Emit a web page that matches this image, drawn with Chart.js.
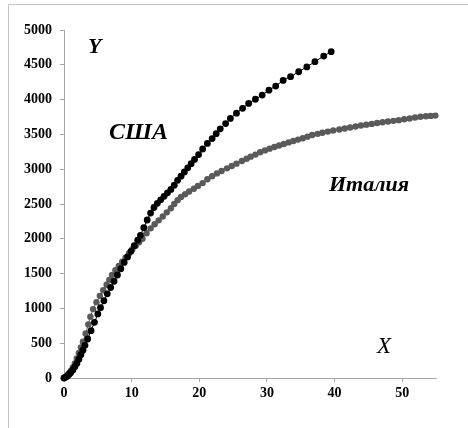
<!DOCTYPE html>
<html>
<head>
<meta charset="utf-8">
<script src="https://cdn.jsdelivr.net/npm/chart.js@4"></script>
<style>
  html, body { margin: 0; padding: 0; background: #fff; }
  #wrap { width: 468px; height: 428px; position: relative; }
</style>
</head>
<body>
<div id="wrap"><canvas id="c" width="468" height="428"></canvas></div>
<script>
// США: x and y values of each point along the curve
const usaX = [0, 0.2, 0.4, 0.6, 0.8, 1.0, 1.3, 1.6, 1.9, 2.2, 2.5, 2.8, 3.1, 3.5, 4.0, 4.5, 5.0, 5.4, 5.9, 6.4, 6.9, 7.4, 7.9, 8.4, 8.9, 9.4, 9.9, 10.4, 10.9, 11.3, 11.8, 12.3, 12.8, 13.3, 13.8, 14.3, 14.8, 15.3, 15.8, 16.3, 16.8, 17.3, 17.8, 18.3, 18.8, 19.3, 19.9, 20.5, 21.2, 21.9, 22.5, 23.1, 23.9, 24.6, 25.5, 26.4, 27.3, 28.3, 29.3, 30.3, 31.3, 32.4, 33.5, 34.7, 35.9, 37.1, 38.4, 39.5];
const usaY = [0, 10, 22, 38, 58, 80, 115, 160, 210, 270, 335, 400, 470, 560, 680, 800, 920, 1010, 1110, 1210, 1300, 1390, 1480, 1570, 1660, 1740, 1820, 1900, 1980, 2050, 2160, 2270, 2370, 2450, 2510, 2560, 2610, 2660, 2710, 2770, 2840, 2900, 2960, 3020, 3080, 3140, 3210, 3290, 3370, 3440, 3510, 3580, 3655, 3730, 3805, 3875, 3945, 4005, 4065, 4135, 4195, 4275, 4330, 4400, 4470, 4545, 4625, 4688];

// Италия: x and y values of each point along the curve
const italyX = [0, 0.2, 0.4, 0.6, 0.8, 1.0, 1.3, 1.6, 1.9, 2.2, 2.5, 2.8, 3.2, 3.6, 3.9, 4.3, 4.8, 5.3, 5.8, 6.3, 6.7, 7.1, 7.6, 8.1, 8.6, 9.1, 9.6, 10.1, 10.6, 11.1, 11.6, 12.2, 12.8, 13.4, 14.0, 14.6, 15.2, 15.8, 16.3, 16.8, 17.3, 17.9, 18.5, 19.2, 19.8, 20.5, 21.2, 21.9, 22.6, 23.3, 24.1, 24.8, 25.5, 26.3, 27.0, 27.6, 28.3, 29.0, 29.7, 30.4, 31.1, 31.8, 32.5, 33.2, 33.9, 34.6, 35.3, 36.0, 36.7, 37.5, 38.2, 39.0, 39.8, 40.7, 41.5, 42.3, 43.1, 43.9, 44.7, 45.5, 46.3, 47.1, 47.9, 48.7, 49.5, 50.3, 51.1, 51.9, 52.7, 53.5, 54.2, 54.9];
const italyY = [0, 12, 28, 48, 72, 100, 150, 210, 280, 360, 440, 520, 640, 770, 880, 990, 1090, 1180, 1260, 1340, 1410, 1480, 1550, 1610, 1670, 1730, 1790, 1850, 1900, 1950, 2000, 2080, 2150, 2210, 2265, 2320, 2380, 2440, 2500, 2555, 2600, 2640, 2680, 2720, 2760, 2800, 2855, 2900, 2940, 2975, 3012, 3045, 3080, 3118, 3150, 3180, 3210, 3243, 3270, 3295, 3318, 3340, 3362, 3385, 3405, 3425, 3445, 3468, 3492, 3508, 3524, 3540, 3555, 3570, 3585, 3600, 3614, 3628, 3640, 3651, 3664, 3675, 3685, 3695, 3705, 3717, 3729, 3742, 3753, 3760, 3766, 3770];

// Axis tick values
const xTicks = [0, 10, 20, 30, 40, 50];
const yTicks = [0, 500, 1000, 1500, 2000, 2500, 3000, 3500, 4000, 4500, 5000];

const toPoints = (xs, ys) => xs.map((x, i) => ({ x: x, y: ys[i] }));

const serif = "'Liberation Serif', 'DejaVu Serif', serif";
const axisGray = '#a6a6a6';

// White page, light frame along the top and left edges, and the text labels
const decor = {
  id: 'decor',
  beforeDraw(chart) {
    const ctx = chart.ctx;
    ctx.save();
    ctx.fillStyle = '#fff';
    ctx.fillRect(0, 0, chart.width, chart.height);
    ctx.strokeStyle = '#c4c4c4';
    ctx.lineWidth = 1;
    ctx.beginPath();
    ctx.moveTo(8.5, chart.height);
    ctx.lineTo(8.5, 4.5);
    ctx.lineTo(chart.width, 4.5);
    ctx.stroke();
    ctx.restore();
  },
  afterDraw(chart) {
    const ctx = chart.ctx;
    ctx.save();
    ctx.fillStyle = '#000';
    ctx.textBaseline = 'alphabetic';
    ctx.textAlign = 'left';
    ctx.font = "italic bold 22px " + serif;
    ctx.fillText('Y', 88, 53);
    ctx.font = "italic bold 24px " + serif;
    ctx.fillText('США', 109, 139);
    ctx.font = "italic bold 22px " + serif;
    ctx.fillText('Италия', 329, 191);
    ctx.font = "italic 23px " + serif;
    ctx.fillText('X', 377, 353);
    ctx.restore();
  }
};

new Chart(document.getElementById('c'), {
  type: 'scatter',
  data: {
    datasets: [
      {
        label: 'США',
        data: toPoints(usaX, usaY),
        showLine: true,
        borderColor: '#000',
        borderWidth: 1,
        backgroundColor: '#000',
        pointBackgroundColor: '#000',
        pointBorderColor: '#000',
        pointBorderWidth: 0,
        pointRadius: 3.4,
        clip: false
      },
      {
        label: 'Италия',
        data: toPoints(italyX, italyY),
        showLine: true,
        borderColor: '#5a5a5a',
        borderWidth: 1,
        backgroundColor: '#5a5a5a',
        pointBackgroundColor: '#5a5a5a',
        pointBorderColor: '#5a5a5a',
        pointBorderWidth: 0,
        pointRadius: 3.2,
        clip: false
      }
    ]
  },
  options: {
    responsive: false,
    animation: false,
    events: [],
    layout: { padding: { top: 30, right: 32, bottom: 0, left: 0 } },
    plugins: {
      legend: { display: false },
      tooltip: { enabled: false }
    },
    scales: {
      x: {
        type: 'linear',
        min: 0,
        max: 55,
        afterFit(s) { s.height = 50; },
        afterBuildTicks(s) { s.ticks = xTicks.map(v => ({ value: v })); },
        border: { display: true, color: axisGray, width: 1 },
        grid: { display: true, drawOnChartArea: false, drawTicks: true, tickLength: 4, color: axisGray },
        ticks: {
          padding: 3,
          color: '#000',
          font: { family: serif, size: 14, weight: 'bold' },
          maxRotation: 0,
          callback: v => String(v)
        }
      },
      y: {
        type: 'linear',
        min: 0,
        max: 5000,
        afterFit(s) { s.width = 64; },
        afterBuildTicks(s) { s.ticks = yTicks.map(v => ({ value: v })); },
        border: { display: true, color: axisGray, width: 1 },
        grid: { display: true, drawOnChartArea: false, drawTicks: true, tickLength: 4, color: axisGray },
        ticks: {
          padding: 8,
          color: '#000',
          font: { family: serif, size: 14, weight: 'bold' },
          callback: v => String(v)
        }
      }
    }
  },
  plugins: [decor]
});
</script>
</body>
</html>
